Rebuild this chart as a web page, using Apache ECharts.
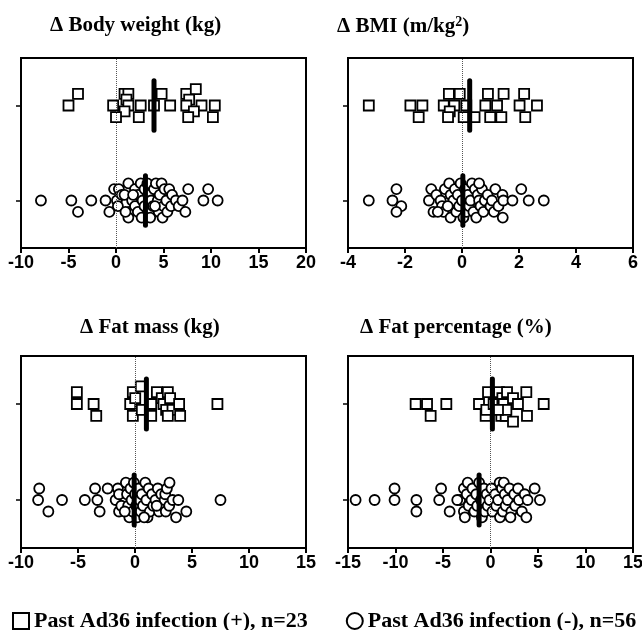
<!DOCTYPE html>
<html>
<head>
<meta charset="utf-8">
<script src="https://cdn.jsdelivr.net/npm/echarts@6/dist/echarts.min.js"></script>
<style>
  html, body { margin: 0; padding: 0; background: #fff; }
  #chart1 { width: 642px; height: 630px; }
</style>
</head>
<body>
<div id="chart1"></div>
<script>
// panel titles
var titles = ['\u0394 Body weight (kg)', '\u0394 BMI (m/kg{sup|2})', '\u0394 Fat mass (kg)', '\u0394 Fat percentage (%)'];
var seriesNames = ['Past Ad36 infection (+), n=23', 'Past Ad36 infection (-), n=56'];

// x axis ranges
var xMin = [-10, -4, -10, -15];
var xMax = [20, 6, 15, 15];
var xStep = [5, 2, 5, 5];

// [value, jitter level] , Ad36 (+)
var bwPos = [[-4.0,1],[-5.0,0],[0.9,1],[1.3,1],[1.1,0.5],[-0.3,0],[1.3,0],[2.6,0],[0.9,-0.5],[0.0,-1],[2.4,-1],[4.0,0],[4.8,1],[5.7,0],[7.4,1],[8.4,1.4],[7.7,0.5],[7.4,0],[9.0,0],[10.4,0],[8.2,-0.5],[7.6,-1],[10.2,-1]];
var bmiPos = [[-3.27,0],[-1.81,0],[-1.39,0],[-1.52,-1],[-0.64,0],[-0.46,1],[-0.27,0],[-0.43,-0.5],[-0.49,-1],[-0.08,1],[0.15,0],[0.06,-1],[0.44,-1],[0.82,0],[0.91,1],[0.99,-1],[1.23,0],[1.38,-1],[1.46,1],[2.02,0],[2.18,1],[2.22,-1],[2.63,0]];
var fmPos = [[-5.1,1],[-5.1,0],[-3.63,0],[-3.4,-1],[-0.19,1],[-0.42,0],[0.02,0.5],[-0.19,-1],[0.51,1.5],[0.6,-0.5],[1.42,0],[1.42,-1],[1.92,1],[2.35,0.5],[2.5,0],[2.88,1],[3.08,0.5],[2.73,-0.5],[3.29,-0.5],[2.88,-1],[3.87,0],[3.96,-1],[7.23,0]];
var fpPos = [[-7.88,0],[-6.68,0],[-6.3,-1],[-4.65,0],[-1.21,0],[-0.51,-1],[-0.26,1],[-0.44,-0.5],[0.33,0],[0.89,1],[1.25,0.5],[1.74,1],[1.39,0],[1.14,-1],[1.6,-1],[1.67,-0.5],[2.37,0.5],[2.89,0],[2.37,-1.5],[3.77,1],[3.84,-1],[5.6,0],[0.79,-0.5]];

// Ad36 (-)
var bwNeg = [[-7.9,0],[-4.7,0],[-4.0,-2],[-2.6,0],[-1.1,0],[-0.7,-2],[-0.2,2],[0.3,2],[0.1,0],[0.2,-1],[0.6,1],[1.3,3],[0.9,1],[1.4,-2],[1.3,-3],[1.0,-2],[1.7,0],[2.0,2],[2.3,1],[2.0,-1],[2.3,-2],[2.6,3],[2.8,0],[2.7,-3],[3.0,2],[3.0,-1],[3.3,3],[3.4,1],[3.5,-2],[3.7,0],[3.9,-1],[3.6,-3],[4.0,2],[4.2,3],[4.4,0],[4.5,-2],[4.6,1],[4.8,3],[4.9,-3],[5.0,-1],[5.1,2],[5.3,0],[5.4,-2],[5.6,2],[5.9,1],[5.8,-1],[6.3,0],[6.6,-1],[7.0,0],[7.3,-2],[7.6,2],[9.2,0],[9.7,2],[10.7,0],[4.1,-1],[1.8,1]];
var bmiNeg = [[-3.27,0],[-2.44,0],[-2.3,2],[-2.13,-1],[-2.3,-2],[-1.16,0],[-1.08,2],[-1.0,-2],[-0.9,1],[-0.75,0],[-0.7,-1],[-0.6,2],[-0.65,-2],[-0.45,3],[-0.4,1],[-0.4,-3],[-0.35,-1],[-0.3,0],[-0.25,2],[-0.2,-2],[-0.15,1],[-0.1,-1],[-0.05,3],[0.0,0],[0.05,-3],[0.1,2],[0.15,-2],[0.2,1],[0.25,-1],[0.3,0],[0.35,3],[0.4,-2],[0.45,2],[0.5,-3],[0.55,1],[0.6,0],[0.65,-1],[0.7,2],[0.75,-2],[0.8,0],[0.9,1],[1.0,-1],[1.05,0],[1.12,-2],[1.17,2],[1.28,-1],[1.42,1],[1.43,-3],[1.45,0],[1.77,0],[2.08,2],[2.34,0],[2.87,0],[-0.5,-1],[0.6,3],[-0.85,-2]];
var fmNeg = [[-8.4,2],[-8.5,0],[-7.6,-2],[-6.4,0],[-4.4,0],[-3.5,2],[-3.3,0],[-3.1,-2],[-2.4,2],[-1.5,2],[-1.7,0],[-1.4,1],[-1.4,-2],[-1.2,-1],[-0.8,3],[-0.7,1],[-0.6,-1],[-0.5,-3],[-0.4,2],[-0.3,0],[-0.2,-2],[-0.1,3],[0.0,1],[0.1,-1],[0.2,-3],[0.3,2],[0.4,0],[0.5,-2],[0.6,1],[0.7,-1],[0.9,3],[1.0,0],[1.1,-3],[1.2,2],[1.3,-2],[1.5,1],[1.6,-1],[1.8,0],[2.0,2],[2.1,-2],[2.3,1],[2.5,-1],[2.6,0],[2.65,1],[2.7,-2],[2.8,2],[3.0,-1],[3.03,3],[3.3,0],[3.6,-3],[3.8,0],[4.5,-2],[7.5,0],[-0.9,-2],[0.8,-3],[1.9,-1]];
var fpNeg = [[-14.2,0],[-12.2,0],[-10.1,2],[-10.1,0],[-7.8,0],[-7.8,-2],[-5.2,2],[-5.4,0],[-4.3,-2],[-3.2,0],[-2.8,2],[-2.4,3],[-2.8,-2],[-2.7,-3],[-2.5,1],[-2.3,-1],[-2.0,0],[-1.9,2],[-1.7,-2],[-1.5,1],[-1.4,-1],[-1.2,3],[-1.0,0],[-0.9,-3],[-0.7,2],[-0.6,-2],[-0.4,1],[-0.3,-1],[-0.1,0],[0.1,2],[0.2,-2],[0.5,1],[0.6,-1],[0.8,0],[0.96,3],[1.0,-3],[1.2,2],[1.4,3],[1.3,-2],[1.5,1],[1.6,-1],[1.8,0],[2.0,2],[2.2,-2],[2.5,1],[2.6,-1],[2.9,2],[3.0,0],[3.3,-2],[3.6,1],[3.77,-3],[3.9,0],[4.65,2],[5.2,0],[-3.5,0],[2.1,-3]];

// group means
var meanPos = [4.0, 0.27, 1.0, 0.2];
var meanNeg = [3.1, 0.03, -0.07, -1.2];

var posData = [bwPos, bmiPos, fmPos, fpPos];
var negData = [bwNeg, bmiNeg, fmNeg, fpNeg];

var Chart1 = echarts.init(document.getElementById('chart1'));

var gridPos = [
  {left: 21, top: 58, width: 285, height: 190},
  {left: 348, top: 58, width: 285, height: 190},
  {left: 21, top: 356, width: 285, height: 192},
  {left: 348, top: 356, width: 285, height: 192}
];
var titlePos = [[45, 10], [332, 10], [75, 312], [355, 312]];

var grids = [], xAxes = [], yAxes = [], series = [], titleArr = [];
for (var i = 0; i < 4; i++) {
  grids.push({
    left: gridPos[i].left, top: gridPos[i].top, width: gridPos[i].width, height: gridPos[i].height,
    outerBoundsMode: 'none', containLabel: false,
    show: true, borderColor: '#000', borderWidth: 2, backgroundColor: 'transparent'
  });
  titleArr.push({
    text: titles[i], left: titlePos[i][0], top: titlePos[i][1],
    textStyle: {
      fontFamily: 'Liberation Serif', fontWeight: 'bold', fontSize: 21, color: '#000',
      rich: { sup: { fontFamily: 'Liberation Serif', fontWeight: 'bold', fontSize: 14, verticalAlign: 'top', padding: [0, 0, 10, 0] } }
    }
  });
  xAxes.push({
    gridIndex: i, type: 'value', min: xMin[i], max: xMax[i], interval: xStep[i],
    axisLine: {show: true, onZero: false, lineStyle: {color: '#000', width: 2}},
    axisTick: {show: true, length: 5, lineStyle: {color: '#000', width: 2}},
    axisLabel: {color: '#000', fontFamily: 'Liberation Sans', fontWeight: 'bold', fontSize: 18, margin: 6},
    splitLine: {show: false}
  });
  yAxes.push({
    gridIndex: i, type: 'value', min: -0.5, max: 1.5,
    axisLine: {show: true, onZero: false, lineStyle: {color: '#000', width: 2}},
    axisTick: {show: true, length: 5, customValues: [0, 1], lineStyle: {color: '#000', width: 1.5}},
    axisLabel: {show: false},
    splitLine: {show: false}
  });
  series.push({
    name: seriesNames[0], type: 'scatter', xAxisIndex: i, yAxisIndex: i,
    symbol: 'rect', symbolSize: 10,
    itemStyle: {color: '#fff', borderColor: '#000', borderWidth: 1.8, opacity: 1},
    data: posData[i].map(function (d) { return [d[0], 1 + d[1] * 0.123]; }),
    markLine: {
      silent: true, symbol: 'none', label: {show: false},
      lineStyle: {color: '#555', type: 'dotted', width: 1},
      data: [{xAxis: 0}]
    },
    z: 3
  });
  series.push({
    name: seriesNames[1], type: 'scatter', xAxisIndex: i, yAxisIndex: i,
    symbol: 'circle', symbolSize: 10,
    itemStyle: {color: '#fff', borderColor: '#000', borderWidth: 1.8, opacity: 1},
    data: negData[i].map(function (d) { return [d[0], d[1] * 0.06]; }),
    z: 3
  });
  series.push({
    type: 'line', xAxisIndex: i, yAxisIndex: i, symbol: 'none', silent: true,
    lineStyle: {color: '#000', width: 5, cap: 'round'},
    data: [[meanPos[i], 0.74], [meanPos[i], 1.26]], z: 5
  });
  series.push({
    type: 'line', xAxisIndex: i, yAxisIndex: i, symbol: 'none', silent: true,
    lineStyle: {color: '#000', width: 5, cap: 'round'},
    data: [[meanNeg[i], -0.26], [meanNeg[i], 0.26]], z: 5
  });
}

var option1 = {
  backgroundColor: '#fff',
  animation: false,
  title: titleArr,
  legend: {
    left: 7, top: 605, itemWidth: 16, itemHeight: 16, itemGap: 38,
    data: seriesNames,
    textStyle: {fontFamily: 'Liberation Serif', fontWeight: 'bold', fontSize: 22, color: '#000'}
  },
  grid: grids,
  xAxis: xAxes,
  yAxis: yAxes,
  series: series
};
Chart1.setOption(option1);
</script>
</body>
</html>
